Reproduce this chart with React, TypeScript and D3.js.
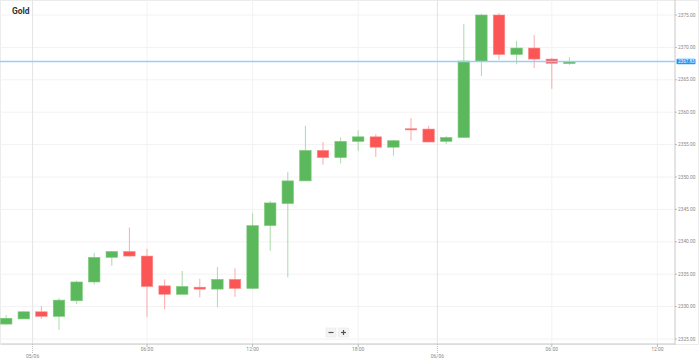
import React from 'react';
import {scaleLinear} from 'd3';

// hourly candles, 23:00 on 05/06 missing (market break)
const times=["22:00","23:00","00:00","01:00","02:00","03:00","04:00","05:00","06:00","07:00","08:00","09:00","10:00","11:00","12:00","13:00","14:00","15:00","16:00","17:00","18:00","19:00","20:00","21:00","22:00","00:00","01:00","02:00","03:00","04:00","05:00","06:00","07:00"];
const opens=[2327.3,2328.1,2329.2,2328.5,2330.9,2333.8,2337.6,2338.5,2337.8,2333.2,2331.9,2333.0,2332.7,2334.2,2332.8,2342.5,2345.9,2349.4,2354.1,2353.0,2355.5,2356.2,2354.6,2357.45,2357.4,2355.5,2356.1,2367.8,2375.0,2368.9,2369.9,2368.2,2367.5];
const highs=[2328.7,2329.3,2330.1,2331.3,2334.0,2338.3,2338.6,2342.2,2338.9,2334.2,2335.5,2334.3,2336.1,2335.9,2344.4,2346.3,2350.8,2357.9,2355.4,2356.1,2357.2,2356.6,2355.7,2359.1,2357.9,2356.3,2373.6,2375.2,2375.3,2371.0,2371.9,2368.4,2368.5];
const lows=[2327.2,2328.1,2328.1,2326.4,2330.4,2333.4,2336.3,2337.7,2328.4,2329.6,2331.9,2331.4,2329.9,2331.5,2332.7,2338.6,2334.5,2349.4,2351.9,2352.1,2354.0,2353.1,2353.3,2355.6,2355.4,2355.1,2356.1,2365.6,2368.1,2367.4,2366.8,2363.6,2367.3];
const closes=[2328.2,2329.2,2328.5,2331.0,2333.8,2337.6,2338.5,2337.8,2333.1,2331.9,2333.1,2332.7,2334.2,2332.8,2342.5,2346.0,2349.4,2354.1,2353.0,2355.5,2356.2,2354.6,2355.6,2357.3,2355.4,2356.1,2367.9,2375.0,2368.9,2369.9,2368.2,2367.55,2367.83];

const yTicks=[2325,2330,2335,2340,2345,2350,2355,2360,2365,2370,2375];
const hourTicks=[{i:8,label:"06:00"},{i:14,label:"12:00"},{i:20,label:"18:00"},{i:31,label:"06:00"},{i:37,label:"12:00"}];
const dayTicks=[{i:1.5,label:"05/06"},{i:24.5,label:"06/06"}];
const lastPrice=2367.83;

const width=699, height=362;
const plotRight=675, plotBottom=344;

const up="#5cb85c", down="#fb5555";
const upWick="#a9dca9", downWick="#fdabab";
const font="Roboto, 'DejaVu Sans', sans-serif";

export default function App(){
  const xScale=scaleLinear().domain([0,37]).range([6.2,657.4]);
  const yScale=scaleLinear().domain([2325,2375]).range([339,15]);
  const bodyW=11.5;

  const candles=times.map((t,i)=>({t,o:opens[i],h:highs[i],l:lows[i],c:closes[i]}));

  return (
    <svg width={width} height={height} style={{position:"absolute",left:0,top:0,background:"#fff"}} fontFamily={font}>
      <rect x={0.5} y={0.5} width={width-1} height={plotBottom} fill="none" stroke="#ececec"/>

      {yTicks.map(v=>(
        <line key={v} x1={0} x2={plotRight} y1={yScale(v)} y2={yScale(v)} stroke="#f2f2f2" strokeWidth={1}/>
      ))}
      {hourTicks.map(d=>(
        <line key={"h"+d.i} x1={xScale(d.i)} x2={xScale(d.i)} y1={0} y2={plotBottom} stroke="#f2f2f2"/>
      ))}
      {dayTicks.map(d=>(
        <line key={"d"+d.i} x1={xScale(d.i)} x2={xScale(d.i)} y1={0} y2={plotBottom} stroke="#e4e4e4"/>
      ))}

      <text x={12} y={14} fontSize={8.5} fontWeight="bold" fill="#333">Gold</text>

      {candles.map((d,i)=>{
        const x=xScale(i);
        const isUp=d.c>=d.o;
        const top=yScale(Math.max(d.o,d.c));
        const bot=yScale(Math.min(d.o,d.c));
        return (
          <g key={i}>
            <line x1={x} x2={x} y1={yScale(d.h)} y2={yScale(d.l)} stroke={isUp?upWick:downWick} strokeWidth={1}/>
            <rect x={x-bodyW/2} y={top} width={bodyW} height={Math.max(1.2,bot-top)}
              fill={isUp?up:down} stroke={isUp?"#7ccb7c":"#fd8a8a"} strokeWidth={0.6}/>
          </g>
        );
      })}

      <line x1={0} x2={plotRight} y1={yScale(lastPrice)} y2={yScale(lastPrice)} stroke="#9ccdf5" strokeWidth={1.5}/>

      <line x1={plotRight} x2={plotRight} y1={0} y2={plotBottom+1} stroke="#c8c8c8" strokeWidth={1}/>
      {yTicks.map(v=>(
        <g key={"yl"+v}>
          <line x1={plotRight} x2={plotRight+2} y1={yScale(v)} y2={yScale(v)} stroke="#bbb"/>
          <text x={plotRight+3} y={yScale(v)+1.6} fontSize={4.8} fill="#8a8a8a">{v.toFixed(2)}</text>
        </g>
      ))}
      <rect x={plotRight+1.5} y={yScale(lastPrice)-2.8} width={19} height={5.6} rx={1} fill="#2196f3"/>
      <text x={plotRight+3} y={yScale(lastPrice)+1.6} fontSize={4.6} fill="#fff">{lastPrice.toFixed(2)}</text>

      <line x1={1} x2={plotRight} y1={plotBottom} y2={plotBottom} stroke="#d8d8d8" strokeWidth={1.6}/>
      {hourTicks.map(d=>(
        <g key={"xl"+d.i}>
          <line x1={xScale(d.i)} x2={xScale(d.i)} y1={plotBottom} y2={plotBottom+3} stroke="#bbb"/>
          <text x={xScale(d.i)} y={plotBottom+7} fontSize={5} fill="#8a8a8a" textAnchor="middle">{d.label}</text>
        </g>
      ))}
      {dayTicks.map(d=>(
        <g key={"dl"+d.i}>
          <line x1={xScale(d.i)} x2={xScale(d.i)} y1={plotBottom} y2={plotBottom+9} stroke="#bbb" strokeDasharray="1,1"/>
          <text x={xScale(d.i)} y={plotBottom+14} fontSize={5} fill="#8a8a8a" textAnchor="middle">{d.label}</text>
        </g>
      ))}

      <g>
        <rect x={326} y={328} width={10} height={9} fill="#f4f4f4" stroke="#e6e6e6" strokeWidth={0.6}/>
        <line x1={328.5} x2={333.5} y1={332.5} y2={332.5} stroke="#555" strokeWidth={1.2}/>
        <rect x={338.5} y={328} width={10} height={9} fill="#f4f4f4" stroke="#e6e6e6" strokeWidth={0.6}/>
        <line x1={341} x2={346} y1={332.5} y2={332.5} stroke="#555" strokeWidth={1.2}/>
        <line x1={343.5} x2={343.5} y1={330} y2={335} stroke="#555" strokeWidth={1.2}/>
      </g>
    </svg>
  );
}
